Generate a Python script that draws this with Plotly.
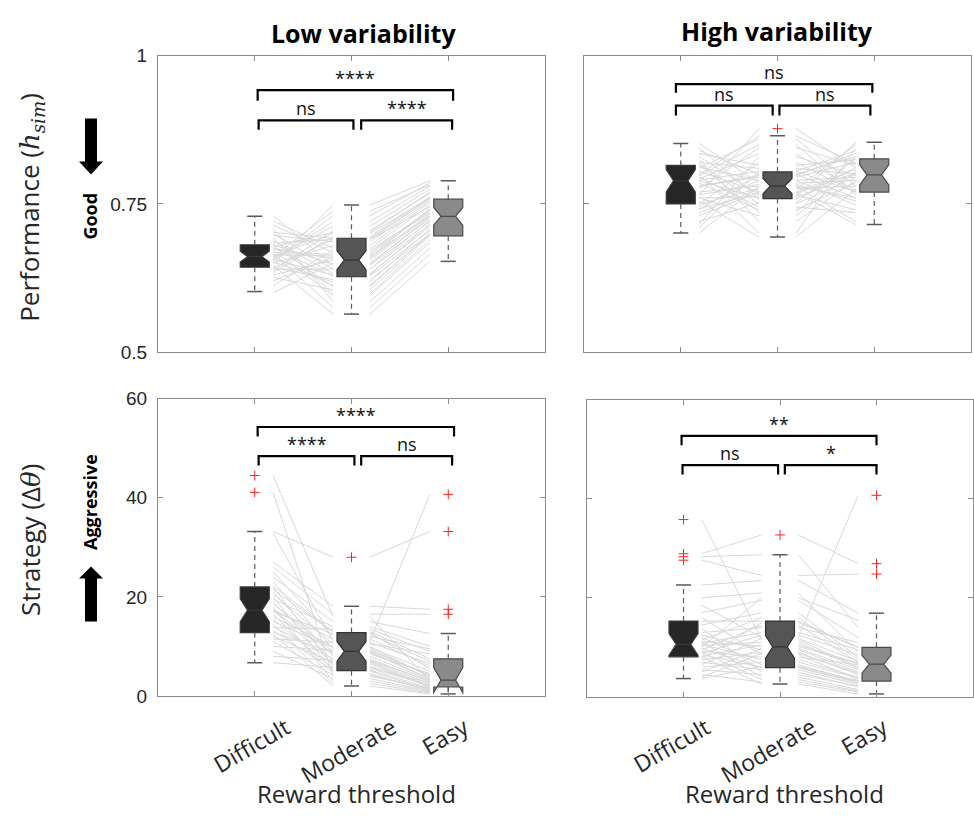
import plotly.graph_objects as go

W, H = 974, 818

categories = ["Difficult", "Moderate", "Easy"]
cat_pos = [1, 2, 3]

# ---------------- Panel A: Low variability, Performance (h_sim) ----------------
perf_low_difficult = [0.661, 0.642, 0.680, 0.630, 0.700, 0.655, 0.612, 0.672, 0.648, 0.688,
                      0.620, 0.666, 0.730, 0.637, 0.676, 0.650, 0.600, 0.692, 0.658, 0.643,
                      0.684, 0.626, 0.668, 0.708, 0.654, 0.640, 0.721, 0.662, 0.634, 0.674,
                      0.646, 0.697, 0.652, 0.661, 0.681, 0.714, 0.656, 0.678, 0.664, 0.702]
perf_low_moderate = [0.700, 0.690, 0.610, 0.655, 0.640, 0.720, 0.672, 0.595, 0.748, 0.632,
                     0.660, 0.575, 0.646, 0.705, 0.628, 0.680, 0.650, 0.598, 0.712, 0.622,
                     0.690, 0.605, 0.665, 0.585, 0.730, 0.640, 0.675, 0.612, 0.695, 0.658,
                     0.564, 0.686, 0.618, 0.738, 0.648, 0.668, 0.630, 0.702, 0.662, 0.692]
perf_low_easy = [0.760, 0.745, 0.700, 0.730, 0.715, 0.780, 0.735, 0.685, 0.789, 0.712,
                 0.742, 0.665, 0.720, 0.768, 0.705, 0.752, 0.725, 0.690, 0.775, 0.700,
                 0.758, 0.696, 0.738, 0.675, 0.785, 0.722, 0.748, 0.698, 0.762, 0.733,
                 0.653, 0.755, 0.708, 0.782, 0.728, 0.740, 0.716, 0.770, 0.730, 0.760]
perf_low_q1 = [0.643, 0.627, 0.696]
perf_low_median = [0.661, 0.655, 0.729]
perf_low_q3 = [0.681, 0.692, 0.758]
perf_low_lower = [0.602, 0.564, 0.653]
perf_low_upper = [0.729, 0.748, 0.789]
perf_low_notch = [0.009, 0.016, 0.015]
perf_low_outliers = [[], [], []]
perf_low_sig = ["ns", "****", "****"]

# ---------------- Panel B: High variability, Performance ----------------
perf_high_difficult = [0.789, 0.750, 0.816, 0.701, 0.840, 0.765, 0.800, 0.745, 0.830, 0.775,
                       0.720, 0.852, 0.790, 0.760, 0.810, 0.735, 0.795, 0.820, 0.755, 0.780,
                       0.805, 0.715, 0.845, 0.770, 0.825, 0.740, 0.798, 0.760, 0.812, 0.730,
                       0.785, 0.835, 0.750, 0.792, 0.710, 0.818, 0.765, 0.800, 0.742, 0.780]
perf_high_moderate = [0.760, 0.820, 0.735, 0.780, 0.800, 0.877, 0.700, 0.790, 0.765, 0.845,
                      0.752, 0.785, 0.805, 0.730, 0.860, 0.775, 0.745, 0.810, 0.694, 0.795,
                      0.770, 0.830, 0.758, 0.780, 0.720, 0.800, 0.850, 0.762, 0.790, 0.770,
                      0.740, 0.815, 0.776, 0.835, 0.805, 0.750, 0.783, 0.865, 0.768, 0.798]
perf_high_easy = [0.800, 0.770, 0.830, 0.720, 0.760, 0.810, 0.845, 0.795, 0.740, 0.815,
                  0.826, 0.790, 0.770, 0.805, 0.780, 0.850, 0.735, 0.800, 0.775, 0.820,
                  0.715, 0.798, 0.812, 0.760, 0.790, 0.830, 0.765, 0.854, 0.748, 0.808,
                  0.786, 0.825, 0.780, 0.772, 0.840, 0.795, 0.755, 0.818, 0.802, 0.835]
perf_high_q1 = [0.750, 0.759, 0.770]
perf_high_median = [0.789, 0.780, 0.799]
perf_high_q3 = [0.815, 0.804, 0.826]
perf_high_lower = [0.701, 0.694, 0.715]
perf_high_upper = [0.852, 0.865, 0.854]
perf_high_notch = [0.019, 0.013, 0.017]
perf_high_outliers = [[], [0.877], []]
perf_high_sig = ["ns", "ns", "ns"]

# ---------------- Panel C: Low variability, Strategy (Δθ) ----------------
strat_low_difficult = [44.5, 41.1, 33.2, 32.8, 27.0, 26.0, 25.0, 24.0, 23.0, 22.2,
                       22.0, 21.5, 21.0, 20.5, 20.0, 19.5, 19.0, 18.5, 18.0, 17.4,
                       17.3, 17.2, 17.0, 16.5, 16.0, 15.5, 15.0, 14.5, 14.0, 13.8,
                       13.2, 12.8, 12.5, 12.0, 11.5, 11.0, 10.0, 9.0, 8.0, 6.7]
strat_low_moderate = [16.0, 4.0, 28.0, 11.0, 18.1, 16.5, 12.0, 15.0, 9.5, 13.0,
                      6.0, 12.8, 8.0, 10.5, 5.0, 14.0, 7.0, 9.0, 3.0, 11.5,
                      6.5, 8.5, 12.5, 4.5, 10.0, 5.5, 9.8, 2.5, 7.5, 13.5,
                      5.2, 8.8, 2.0, 6.8, 10.8, 4.2, 9.2, 3.5, 7.2, 5.8]
strat_low_easy = [3.0, 1.5, 33.2, 40.7, 17.5, 16.5, 9.5, 12.6, 4.0, 7.5,
                  2.0, 5.5, 3.2, 8.5, 1.2, 10.0, 2.5, 3.5, 0.8, 6.0,
                  1.8, 4.5, 7.0, 1.0, 3.8, 2.2, 5.0, 0.6, 2.8, 9.0,
                  1.6, 3.4, 0.4, 2.0, 6.5, 1.4, 4.2, 1.0, 3.0, 2.6]
strat_low_q1 = [12.8, 5.1, 1.8]
strat_low_median = [17.3, 9.0, 3.2]
strat_low_q3 = [22.0, 12.8, 7.5]
strat_low_lower = [6.7, 2.0, 0.4]
strat_low_upper = [33.2, 18.1, 12.6]
strat_low_notch = [2.3, 2.0, 2.5]
strat_low_outliers = [[44.5, 41.1], [28.0], [40.7, 33.2, 17.5, 16.5]]
strat_low_sig = ["****", "ns", "****"]

# ---------------- Panel D: High variability, Strategy ----------------
strat_high_difficult = [35.8, 28.9, 28.3, 27.6, 22.6, 20.0, 18.5, 17.0, 16.0, 15.3,
                        14.5, 13.8, 13.0, 12.5, 12.0, 11.5, 11.2, 11.0, 10.8, 10.6,
                        10.4, 10.0, 9.8, 9.5, 9.2, 9.0, 8.8, 8.5, 8.2, 8.1,
                        7.8, 7.5, 7.0, 6.5, 6.0, 5.5, 5.0, 4.5, 4.0, 3.7]
strat_high_moderate = [11.5, 32.7, 28.7, 24.5, 23.5, 21.0, 12.0, 19.5, 8.5, 15.3,
                       17.0, 5.0, 14.0, 9.5, 6.5, 16.0, 10.2, 4.0, 13.0, 7.5,
                       11.0, 20.0, 5.9, 14.5, 8.0, 3.5, 12.5, 6.0, 10.5, 2.6,
                       15.0, 9.0, 5.5, 11.8, 7.0, 4.5, 9.8, 3.0, 8.8, 6.2]
strat_high_easy = [6.0, 26.9, 14.0, 24.8, 16.9, 9.0, 40.7, 12.0, 3.5, 10.0,
                   8.0, 2.0, 11.0, 5.0, 3.1, 7.5, 6.7, 1.5, 9.5, 4.0,
                   5.8, 15.5, 2.8, 7.0, 6.5, 1.2, 8.5, 3.0, 6.8, 0.6,
                   10.0, 4.5, 2.5, 7.2, 3.8, 2.2, 5.5, 1.0, 4.8, 3.3]
strat_high_q1 = [8.1, 5.9, 3.2]
strat_high_median = [10.6, 10.1, 6.6]
strat_high_q3 = [15.3, 15.3, 10.0]
strat_high_lower = [3.7, 2.6, 0.6]
strat_high_upper = [22.6, 28.7, 16.9]
strat_high_notch = [2.2, 2.3, 1.8]
strat_high_outliers = [[35.8, 28.9, 28.3, 27.6], [32.7], [40.7, 26.9, 24.8]]
strat_high_sig = ["ns", "*", "**"]

# ---------------- Styles / layout ----------------
box_fill = ["#262626", "#555555", "#8a8a8a"]
box_edge = ["#3a3a3a", "#333333", "#4a4a4a"]
axis_col = "#8c8c8c"
txt_col = "#262626"
sans = "Open Sans"
ticks_font = "Liberation Sans"


def px_x(p):
    return p / W


def px_y(p):
    return 1 - p / H


panels = [
    dict(vals=[perf_low_difficult, perf_low_moderate, perf_low_easy],
         q1=perf_low_q1, med=perf_low_median, q3=perf_low_q3, lo=perf_low_lower, hi=perf_low_upper,
         notch=perf_low_notch, out=perf_low_outliers, sig=perf_low_sig,
         xdom=(158, 545), ydom=(47, 351), yrange=[0.5, 1], yticks=[0.5, 0.75, 1], ylabels=True,
         brackets=[(1.04, 2.02, 0.891, 0.875), (2.10, 3.04, 0.891, 0.875), (1.03, 3.05, 0.942, 0.924)]),
    dict(vals=[perf_high_difficult, perf_high_moderate, perf_high_easy],
         q1=perf_high_q1, med=perf_high_median, q3=perf_high_q3, lo=perf_high_lower, hi=perf_high_upper,
         notch=perf_high_notch, out=perf_high_outliers, sig=perf_high_sig,
         xdom=(584, 971), ydom=(47, 351), yrange=[0.5, 1], yticks=[0.5, 0.75, 1], ylabels=False,
         brackets=[(0.95, 1.95, 0.916, 0.899), (2.02, 2.96, 0.916, 0.899), (0.95, 2.98, 0.952, 0.9375)]),
    dict(vals=[strat_low_difficult, strat_low_moderate, strat_low_easy],
         q1=strat_low_q1, med=strat_low_median, q3=strat_low_q3, lo=strat_low_lower, hi=strat_low_upper,
         notch=strat_low_notch, out=strat_low_outliers, sig=strat_low_sig,
         xdom=(158, 545), ydom=(399, 704), yrange=[0, 60], yticks=[0, 20, 40, 60], ylabels=True,
         brackets=[(1.04, 2.03, 48.4, 46.5), (2.10, 3.04, 48.4, 46.5), (1.03, 3.06, 54.3, 52.4)],
         xlab_shift=-3),
    dict(vals=[strat_high_difficult, strat_high_moderate, strat_high_easy],
         q1=strat_high_q1, med=strat_high_median, q3=strat_high_q3, lo=strat_high_lower, hi=strat_high_upper,
         notch=strat_high_notch, out=strat_high_outliers, sig=strat_high_sig,
         xdom=(587, 973), ydom=(400, 705), yrange=[0, 60], yticks=[0, 20, 40, 60], ylabels=False,
         brackets=[(0.99, 1.98, 46.8, 44.9), (2.05, 3.0, 46.8, 44.9), (0.98, 3.0, 52.7, 50.8)],
         xlab_shift=-12),
]

line_off = 0.19     # paired lines start/stop offset from category centre
cap_half = 0.078    # whisker cap half-width
box_w = 0.3

fig = go.Figure()
annotations = []
layout_axes = {}


def ann(**kw):
    base = dict(showarrow=False, xanchor="center", yanchor="middle")
    base.update(kw)
    annotations.append(base)


for k, p in enumerate(panels):
    sfx = "" if k == 0 else str(k + 1)
    xa, ya = "x" + sfx, "y" + sfx

    # paired subject lines
    for seg in range(2):
        xs, ys = [], []
        a, b = p["vals"][seg], p["vals"][seg + 1]
        for va, vb in zip(a, b):
            xs += [cat_pos[seg] + line_off, cat_pos[seg + 1] - line_off, None]
            ys += [va, vb, None]
        fig.add_trace(go.Scatter(x=xs, y=ys, mode="lines", xaxis=xa, yaxis=ya,
                                 line=dict(color="#d8d8d8", width=1), hoverinfo="skip",
                                 showlegend=False))

    # notched boxes (precomputed statistics)
    for i in range(3):
        fig.add_trace(go.Box(x=[cat_pos[i]], q1=[p["q1"][i]], median=[p["med"][i]], q3=[p["q3"][i]],
                             lowerfence=[p["q1"][i]], upperfence=[p["q3"][i]],
                             notchspan=[p["notch"][i]], notched=True, notchwidth=0.25,
                             width=box_w, fillcolor=box_fill[i],
                             line=dict(color=box_edge[i], width=1.2),
                             boxpoints=False, whiskerwidth=0, xaxis=xa, yaxis=ya,
                             hoverinfo="skip", showlegend=False))

    # dashed whiskers and caps
    wx, wy, cx, cy = [], [], [], []
    for i in range(3):
        c = cat_pos[i]
        wx += [c, c, None, c, c, None]
        wy += [p["q3"][i], p["hi"][i], None, p["q1"][i], p["lo"][i], None]
        cx += [c - cap_half, c + cap_half, None, c - cap_half, c + cap_half, None]
        cy += [p["hi"][i], p["hi"][i], None, p["lo"][i], p["lo"][i], None]
    fig.add_trace(go.Scatter(x=wx, y=wy, mode="lines", xaxis=xa, yaxis=ya,
                             line=dict(color="#5a5a5a", width=1.2, dash="5px,4px"),
                             hoverinfo="skip", showlegend=False))
    fig.add_trace(go.Scatter(x=cx, y=cy, mode="lines", xaxis=xa, yaxis=ya,
                             line=dict(color="#5a5a5a", width=1.5),
                             hoverinfo="skip", showlegend=False))

    # outliers
    ox, oy = [], []
    for i in range(3):
        for v in p["out"][i]:
            ox.append(cat_pos[i])
            oy.append(v)
    if ox:
        fig.add_trace(go.Scatter(x=ox, y=oy, mode="markers", xaxis=xa, yaxis=ya,
                                 marker=dict(symbol="cross-thin", size=7,
                                             line=dict(color="#ff2020", width=1)),
                                 hoverinfo="skip", showlegend=False))

    # significance brackets
    bx, by = [], []
    for j, (x0, x1, yt, yl) in enumerate(p["brackets"]):
        bx += [x0, x0, x1, x1, None]
        by += [yl, yt, yt, yl, None]
        ann(x=(x0 + x1) / 2, y=yt, xref=xa, yref=ya, text=p["sig"][j], yshift=12,
            font=dict(family=sans, size=18, color="#111111"))
    fig.add_trace(go.Scatter(x=bx, y=by, mode="lines", xaxis=xa, yaxis=ya,
                             line=dict(color="#000000", width=2.2),
                             hoverinfo="skip", showlegend=False))

    # axes
    x0p, x1p = p["xdom"]
    y0p, y1p = p["ydom"]
    common = dict(showline=True, mirror="ticks", linecolor=axis_col, linewidth=1,
                  ticks="inside", ticklen=5, tickcolor=axis_col, tickwidth=1,
                  showgrid=False, zeroline=False)
    layout_axes["xaxis" + sfx] = dict(domain=[px_x(x0p), px_x(x1p)], range=[0, 4],
                                      tickvals=cat_pos, showticklabels=False,
                                      anchor=ya, **common)
    layout_axes["yaxis" + sfx] = dict(domain=[px_y(y1p), px_y(y0p)], range=p["yrange"],
                                      tickvals=p["yticks"], showticklabels=p["ylabels"],
                                      tickfont=dict(family=ticks_font, size=19, color=txt_col),
                                      ticklabelstandoff=6, anchor=xa, **common)

    # category labels and x title under bottom panels
    if k >= 2:
        for i in range(3):
            ann(x=cat_pos[i], y=px_y(716), xref=xa, yref="paper", text=categories[i],
                textangle=-30, yanchor="top", xshift=p["xlab_shift"],
                font=dict(family=sans, size=23, color=txt_col))
        ann(x=0.5 * (x0p + x1p) / W + 0.005, y=px_y(804), xref="paper", yref="paper",
            text="Reward threshold", font=dict(family=sans, size=24, color=txt_col))

# column titles
ann(x=px_x(363), y=px_y(24), xref="paper", yref="paper", text="<b>Low variability</b>",
    font=dict(family=sans, size=25, color="#000000"))
ann(x=px_x(777), y=px_y(22), xref="paper", yref="paper", text="<b>High variability</b>",
    font=dict(family=sans, size=25, color="#000000"))

# y-axis titles
serif_i = "<span style='font-family:DejaVu Serif'><i>{}</i></span>"
ann(x=px_x(30), y=px_y(203), xref="paper", yref="paper",
    text="Performance (" + serif_i.format("h") + "<sub>" + serif_i.format("sim") + "</sub>)",
    textangle=-90, font=dict(family=sans, size=26, color=txt_col))
ann(x=px_x(30), y=px_y(544), xref="paper", yref="paper",
    text="Strategy (Δ" + serif_i.format("θ") + ")",
    textangle=-90, font=dict(family=sans, size=26, color=txt_col))

# direction hints
ann(x=px_x(90), y=px_y(212), xref="paper", yref="paper", text="<b>Good</b>",
    textangle=-90, font=dict(family=sans, size=18, color="#000000"))
ann(x=px_x(90), y=px_y(505), xref="paper", yref="paper", text="<b>Aggressive</b>",
    textangle=-90, font=dict(family=sans, size=18, color="#000000"))

shapes = [
    # down arrow ("Good")
    dict(type="path", xref="paper", yref="paper", xsizemode="pixel", ysizemode="pixel",
         xanchor=px_x(91), yanchor=px_y(140),
         path="M -6,28 L 6,28 L 6,-15 L 12,-15 L 0,-28 L -12,-15 L -6,-15 Z",
         fillcolor="#000000", line=dict(width=0)),
    # up arrow ("Aggressive")
    dict(type="path", xref="paper", yref="paper", xsizemode="pixel", ysizemode="pixel",
         xanchor=px_x(91), yanchor=px_y(600),
         path="M -6,-27 L 6,-27 L 6,16 L 12,16 L 0,28 L -12,16 L -6,16 Z",
         fillcolor="#000000", line=dict(width=0)),
]

fig.update_layout(width=W, height=H, margin=dict(l=0, r=0, t=0, b=0),
                  paper_bgcolor="white", plot_bgcolor="white",
                  annotations=annotations, shapes=shapes, boxmode="overlay",
                  **layout_axes)

fig.write_html("out.html", config={"displayModeBar": False},
               post_script="document.body.style.margin='0px';")
